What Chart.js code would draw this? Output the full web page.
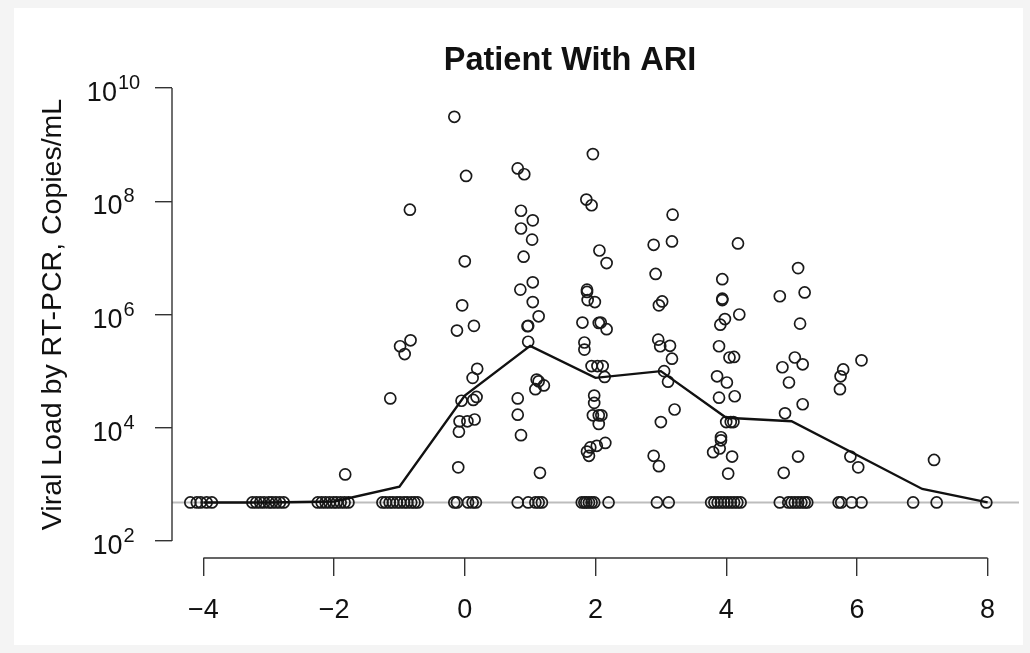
<!DOCTYPE html>
<html lang="en">
<head>
<meta charset="UTF-8">
<title>Patient With ARI</title>
<script src="https://cdn.jsdelivr.net/npm/chart.js"></script>
<style>
  html, body { margin: 0; padding: 0; background: #f4f4f4; }
  #wrap { position: relative; width: 1030px; height: 653px; }
  #panel { position: absolute; left: 14px; top: 8px; width: 1009px; height: 637px; background: #fff; }
  #chart { position: absolute; left: 0; top: 0; }
</style>
</head>
<body>
<div id="wrap">
  <div id="panel"></div>
  <canvas id="chart" width="1030" height="653"></canvas>
</div>
<script>
const chartTitle = 'Patient With ARI';
const yTitle = 'Viral Load by RT-PCR, Copies/mL';
const xTicks = [-4, -2, 0, 2, 4, 6, 8];
const yTickPowers = [2, 4, 6, 8, 10];
const detectionLimit = 480;

// median viral load per day
const medianDays = [-4, -3, -2, -1, 0, 1, 2, 3, 4, 5, 6, 7, 8];
const medianLoad = [480, 480, 500, 910, 3.7e4, 2.8e5, 7.6e4, 1.0e5, 1.5e4, 1.3e4, 3.3e3, 830, 480];

// samples above the detection limit (day with jitter, copies/mL)
const posDays = [
  -1.83,
  -0.84, -0.99, -0.83, -0.92, -1.14,
  -0.16, 0.02, 0.00, -0.04, -0.12, 0.14, 0.19, 0.12, -0.05, 0.18, 0.13, -0.08, 0.04, 0.15, -0.09, -0.10,
  0.81, 0.91, 0.86, 1.04, 0.86, 1.03, 0.90, 1.04, 0.85, 1.04, 1.13, 0.96, 0.97, 0.97, 1.10, 1.21, 1.08, 1.13, 0.81, 0.81, 0.86, 1.15,
  1.96, 1.86, 1.94, 2.06, 2.17, 1.87, 1.87, 1.99, 1.88, 1.80, 2.05, 2.08, 2.17, 1.83, 1.83, 1.94, 2.03, 2.11, 2.14, 1.98, 1.98, 1.96, 2.05, 2.09, 2.05, 1.87, 1.92, 2.02, 2.15, 1.90,
  3.18, 2.89, 3.17, 2.92, 2.97, 3.02, 2.96, 2.99, 3.14, 3.17, 3.05, 3.11, 3.21, 3.00, 2.89, 2.97,
  4.18, 3.94, 3.94, 3.94, 4.20, 3.98, 3.91, 3.89, 4.05, 4.12, 3.86, 4.01, 3.89, 4.13, 4.00, 4.07, 4.11, 3.92, 3.92, 3.80, 3.90, 4.09, 4.03,
  5.10, 4.82, 5.20, 5.13, 5.05, 4.86, 5.17, 4.96, 5.17, 4.90, 5.10, 4.88,
  5.79, 5.75, 5.74, 6.07, 5.90, 6.02,
  7.18
];
const posLoad = [
  1.5e3,
  7.1e7, 2.75e5, 3.5e5, 2.0e5, 3.3e4,
  3.1e9, 2.8e8, 8.7e6, 1.45e6, 5.2e5, 6.3e5, 1.1e5, 7.6e4, 3.0e4, 3.5e4, 3.1e4, 1.3e4, 1.3e4, 1.4e4, 8.5e3, 2.0e3,
  3.8e8, 3.0e8, 6.8e7, 4.6e7, 3.3e7, 2.1e7, 1.05e7, 3.7e6, 2.75e6, 1.66e6, 9.3e5, 6.2e5, 6.3e5, 3.3e5, 7.1e4, 5.6e4, 4.8e4, 6.6e4, 3.3e4, 1.7e4, 7.4e3, 1.6e3,
  6.8e8, 1.07e8, 8.5e7, 1.35e7, 8.1e6, 2.75e6, 2.5e6, 1.66e6, 1.8e6, 7.2e5, 7.1e5, 7.2e5, 5.5e5, 3.2e5, 2.4e5, 1.23e5, 1.23e5, 1.23e5, 7.9e4, 3.7e4, 2.75e4, 1.66e4, 1.66e4, 1.66e4, 1.17e4, 3.8e3, 4.5e3, 4.8e3, 5.4e3, 3.2e3,
  5.8e7, 1.7e7, 1.95e7, 5.2e6, 1.45e6, 1.7e6, 3.6e5, 2.75e5, 2.8e5, 1.66e5, 1.0e5, 6.5e4, 2.1e4, 1.26e4, 3.2e3, 2.1e3,
  1.8e7, 4.2e6, 1.9e6, 1.8e6, 1.0e6, 8.3e5, 6.6e5, 2.75e5, 1.74e5, 1.78e5, 8.1e4, 6.3e4, 3.4e4, 3.6e4, 1.26e4, 1.26e4, 1.26e4, 6.8e3, 6.0e3, 3.7e3, 4.3e3, 3.1e3, 1.55e3,
  6.6e6, 2.1e6, 2.45e6, 6.9e5, 1.74e5, 1.17e5, 1.32e5, 6.3e4, 2.6e4, 1.8e4, 3.1e3, 1.6e3,
  1.07e5, 8.1e4, 4.8e4, 1.55e5, 3.1e3, 2.0e3,
  2.7e3
];

// samples below the detection limit, plotted on the limit line
const limitDays = [
  -4.20, -4.10, -4.04, -3.95, -3.87,
  -3.25, -3.19, -3.13, -3.07, -3.00, -2.95, -2.89, -2.83, -2.77,
  -2.25, -2.19, -2.13, -2.07, -2.01, -1.96, -1.90, -1.84, -1.78,
  -1.26, -1.21, -1.15, -1.10, -1.04, -0.99, -0.93, -0.88, -0.82, -0.77, -0.72,
  -0.16, -0.12, 0.05, 0.12, 0.17,
  0.81, 0.97, 1.08, 1.13, 1.18,
  1.79, 1.83, 1.86, 1.90, 1.94, 1.98, 2.20,
  2.94, 3.12,
  3.77, 3.82, 3.87, 3.92, 3.97, 4.02, 4.07, 4.12, 4.17, 4.22,
  4.82, 4.95, 5.00, 5.05, 5.10, 5.15, 5.20, 5.24,
  5.72, 5.76, 5.92, 6.07,
  6.86, 7.22,
  7.98
];

const FONT = '"Liberation Sans", Arial, Helvetica, sans-serif';
const xMin = -4.48, xMax = 8.48;

const points = posDays.map((d, i) => ({ x: d, y: posLoad[i] }))
  .concat(limitDays.map(d => ({ x: d, y: detectionLimit })));

// R-style axes: axis line only spans first..last tick, superscript labels, title
const rStyle = {
  id: 'rStyle',
  afterDraw(chart) {
    const { ctx, chartArea, scales: { x, y } } = chart;
    ctx.save();
    ctx.strokeStyle = '#333';
    ctx.lineWidth = 1.4;
    ctx.beginPath();
    ctx.moveTo(x.getPixelForValue(xTicks[0]), chartArea.bottom);
    ctx.lineTo(x.getPixelForValue(xTicks[xTicks.length - 1]), chartArea.bottom);
    ctx.moveTo(chartArea.left, y.getPixelForValue(10 ** yTickPowers[0]));
    ctx.lineTo(chartArea.left, y.getPixelForValue(10 ** yTickPowers[yTickPowers.length - 1]));
    ctx.stroke();

    ctx.fillStyle = '#111';
    ctx.textBaseline = 'alphabetic';
    ctx.textAlign = 'left';
    const baseFont = '27px ' + FONT;
    const expFont = '20px ' + FONT;
    const cx = chartArea.left - 59;
    yTickPowers.forEach(p => {
      const py = y.getPixelForValue(10 ** p);
      ctx.font = baseFont;
      const bw = ctx.measureText('10').width;
      ctx.font = expFont;
      const ew = ctx.measureText(String(p)).width;
      const x0 = cx - (bw + ew) / 2;
      ctx.font = baseFont;
      ctx.fillText('10', x0, py + 13);
      ctx.font = expFont;
      ctx.fillText(String(p), x0 + bw + 1, py + 1);
    });

    ctx.font = 'bold 32.5px ' + FONT;
    ctx.textAlign = 'center';
    ctx.fillText(chartTitle, 570, 70);
    ctx.restore();
  }
};

new Chart(document.getElementById('chart'), {
  type: 'scatter',
  data: {
    datasets: [
      {
        type: 'line',
        data: [{ x: xMin, y: detectionLimit }, { x: xMax, y: detectionLimit }],
        borderColor: '#bdbdbd',
        borderWidth: 2,
        pointRadius: 0,
        order: 3
      },
      {
        data: points,
        pointStyle: 'circle',
        pointRadius: 5.5,
        pointBorderWidth: 1.7,
        pointBorderColor: '#1a1a1a',
        pointBackgroundColor: 'rgba(0,0,0,0)',
        order: 2
      },
      {
        type: 'line',
        data: medianDays.map((d, i) => ({ x: d, y: medianLoad[i] })),
        borderColor: '#111',
        borderWidth: 2.4,
        pointRadius: 0,
        tension: 0,
        order: 1
      }
    ]
  },
  options: {
    responsive: false,
    animation: false,
    events: [],
    layout: { padding: { top: 71, right: 11, bottom: 0, left: 0 } },
    plugins: { legend: { display: false }, tooltip: { enabled: false } },
    scales: {
      x: {
        type: 'linear',
        min: xMin,
        max: xMax,
        afterBuildTicks: s => { s.ticks = xTicks.map(v => ({ value: v })); },
        afterFit: s => { s.height = 95; },
        border: { display: false },
        grid: { drawOnChartArea: false, drawTicks: true, tickLength: 18, color: '#333', lineWidth: 1.4 },
        ticks: {
          autoSkip: false,
          maxRotation: 0,
          padding: 18,
          color: '#111',
          font: { family: FONT, size: 27, lineHeight: 1.2 },
          callback: v => String(v).replace('-', '\u2212')
        }
      },
      y: {
        type: 'logarithmic',
        min: 10 ** 1.7,
        max: 10 ** 10.3,
        afterBuildTicks: s => { s.ticks = yTickPowers.map(p => ({ value: 10 ** p })); },
        afterFit: s => { s.width = 172; },
        border: { display: false },
        grid: { drawOnChartArea: false, drawTicks: true, tickLength: 17, color: '#333', lineWidth: 1.4 },
        ticks: { display: false },
        title: {
          display: true,
          text: yTitle,
          color: '#111',
          font: { family: FONT, size: 28.5, lineHeight: 1.2 },
          padding: { top: 36, bottom: 0 }
        }
      }
    }
  },
  plugins: [rStyle]
});
</script>
</body>
</html>
